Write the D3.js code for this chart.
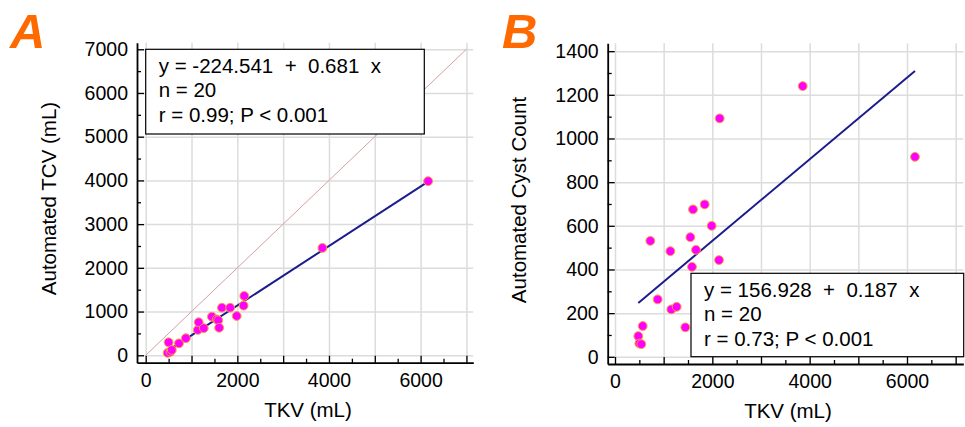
<!DOCTYPE html>
<html>
<head>
<meta charset="utf-8">
<script src="https://cdn.jsdelivr.net/npm/d3@7"></script>
<style>
  body { margin: 0; background: #fff; }
  text { font-family: "Liberation Sans", Arial, sans-serif; fill: #000; }
</style>
</head>
<body>
<svg id="chart" width="965" height="427"></svg>
<script>
// TKV (mL), shared by both panels
var tkv = [479, 500, 541, 569, 726, 877, 1137, 1157, 1267, 1445,
           1548, 1582, 1603, 1664, 1843, 1986, 2137, 2151, 3857, 6164];
// panel A: automated total cyst volume (mL)
var tcv = [55, 297, 80, 121, 272, 390, 580, 755, 620, 882,
           822, 800, 630, 1088, 1088, 898, 1135, 1357, 2455, 3982];
// panel B: automated cyst count
var cystCount = [95, 61, 58, 141, 531, 263, 484, 217, 229, 135,
                 548, 412, 675, 490, 698, 600, 443, 1092, 1240, 916];

var fitA = {a: -224.541, b: 0.681};
var fitB = {a: 156.928, b: 0.187};

var statsA = ["y = -224.541  +  0.681  x", "n = 20", "r = 0.99; P < 0.001"];
var statsB = ["y = 156.928  +  0.187  x", "n = 20", "r = 0.73; P < 0.001"];

var svg = d3.select("#chart");

// Draws one scatter panel
function makePanel(p) {
    var g = svg.append("g");
    var x = d3.scaleLinear().domain(p.xDomain).range(p.xRange);
    var y = d3.scaleLinear().domain(p.yDomain).range(p.yRange);
    var x0 = p.xRange[0], y0 = p.yRange[0];
    var w = p.xRange[1] - p.xRange[0], h = p.yRange[0] - p.yRange[1];

    // grid
    g.append("g")
        .attr("transform", "translate(0," + y0 + ")")
        .call(d3.axisBottom(x).tickValues(p.xGrid).tickSize(-h).tickFormat(""))
        .call(function(s) {
            s.select(".domain").remove();
            s.selectAll("line").attr("stroke", "#dcdcdc").attr("stroke-width", 1.5);
        });
    g.append("g")
        .attr("transform", "translate(" + x0 + ",0)")
        .call(d3.axisLeft(y).tickValues(p.yGrid).tickSize(-w).tickFormat(""))
        .call(function(s) {
            s.select(".domain").remove();
            s.selectAll("line").attr("stroke", "#dcdcdc").attr("stroke-width", 1.5);
        });

    // identity line
    if (p.identity) {
        g.append("line")
            .attr("x1", x(0)).attr("y1", y(0))
            .attr("x2", x(7000)).attr("y2", y(7000))
            .attr("stroke", "#d4a0a0").attr("stroke-width", 1);
    }

    // minor ticks (inward)
    g.append("g")
        .attr("transform", "translate(0," + y0 + ")")
        .call(d3.axisBottom(x).tickValues(p.xMinor).tickSize(-4).tickFormat(""))
        .call(function(s) { s.select(".domain").remove(); s.selectAll("line").attr("stroke-width", 1.3); });
    g.append("g")
        .attr("transform", "translate(" + x0 + ",0)")
        .call(d3.axisLeft(y).tickValues(p.yMinor).tickSize(-4).tickFormat(""))
        .call(function(s) { s.select(".domain").remove(); s.selectAll("line").attr("stroke-width", 1.3); });

    // major ticks + labels
    var fmt = d3.format("d");
    var xAxis = g.append("g")
        .attr("transform", "translate(0," + y0 + ")")
        .call(d3.axisBottom(x).tickValues(p.xMajor).tickFormat(function(d) {
            return p.xLabels.indexOf(d) < 0 ? "" : fmt(d);
        }).tickSizeInner(-7).tickSizeOuter(0).tickPadding(10));
    var yAxis = g.append("g")
        .attr("transform", "translate(" + x0 + ",0)")
        .call(d3.axisLeft(y).tickValues(p.yMajor).tickFormat(fmt)
            .tickSizeInner(-7).tickSizeOuter(0).tickPadding(9));
    [xAxis, yAxis].forEach(function(a) {
        a.selectAll("text").style("font-size", "19.5px").style("font-family", "Liberation Sans, Arial, sans-serif");
        a.selectAll("line").attr("stroke-width", 1.3);
        a.select(".domain").attr("stroke-width", 1.8);
    });

    // regression line over data range
    var ext = d3.extent(p.xs);
    g.append("line")
        .attr("x1", x(ext[0])).attr("y1", y(p.fit.a + p.fit.b * ext[0]))
        .attr("x2", x(ext[1])).attr("y2", y(p.fit.a + p.fit.b * ext[1]))
        .attr("stroke", "#1c1c8c").attr("stroke-width", 2);

    // points
    g.selectAll("circle.pt")
        .data(p.xs.map(function(d, i) { return [d, p.ys[i]]; }))
        .join("circle")
        .attr("class", "pt")
        .attr("cx", function(d) { return x(d[0]); })
        .attr("cy", function(d) { return y(d[1]); })
        .attr("r", 4.4)
        .attr("fill", "#ff00ff")
        .attr("stroke", "#ff9a3c")
        .attr("stroke-width", 1);

    // stats box
    var box = g.append("g").attr("transform", "translate(" + p.box[0] + "," + p.box[1] + ")");
    box.append("rect")
        .attr("width", p.box[2]).attr("height", p.box[3])
        .attr("fill", "#fff").attr("stroke", "#000").attr("stroke-width", 1.2);
    box.selectAll("text")
        .data(p.stats)
        .join("text")
        .attr("x", 13)
        .attr("y", function(d, i) { return 23.7 + i * 24.5; })
        .style("font-size", "20.5px")
        .style("white-space", "pre")
        .attr("xml:space", "preserve")
        .text(function(d) { return d; });

    // axis titles
    g.append("text")
        .attr("x", p.xTitlePos[0]).attr("y", p.xTitlePos[1])
        .attr("text-anchor", "middle")
        .style("font-size", "20.5px")
        .text(p.xTitle);
    g.append("text")
        .attr("transform", "translate(" + p.yTitlePos[0] + "," + p.yTitlePos[1] + ") rotate(-90)")
        .attr("text-anchor", "middle")
        .style("font-size", "20.5px")
        .text(p.yTitle);

    // panel letter
    g.append("text")
        .attr("x", p.letterPos[0]).attr("y", p.letterPos[1])
        .style("font-size", "49px")
        .style("font-weight", "bold")
        .style("font-style", "italic")
        .style("fill", "#ff6a00")
        .text(p.letter);
}

makePanel({
    letter: "A", letterPos: [10, 48],
    xs: tkv, ys: tcv, fit: fitA, stats: statsA, identity: true,
    xDomain: [-190, 7150], xRange: [137, 473.3],
    yDomain: [-170, 7150], yRange: [362.7, 42.7],
    xGrid: d3.range(0, 7001, 1000), yGrid: d3.range(0, 7001, 1000),
    xMajor: d3.range(0, 7001, 1000), xLabels: [0, 2000, 4000, 6000],
    xMinor: d3.range(500, 7001, 1000),
    yMajor: d3.range(0, 7001, 1000), yMinor: d3.range(500, 7001, 1000),
    box: [145.7, 49.3, 278.6, 84.7],
    xTitle: "TKV (mL)", xTitlePos: [308, 416.7],
    yTitle: "Automated TCV (mL)", yTitlePos: [55.5, 198.5]
});

makePanel({
    letter: "B", letterPos: [502, 48],
    xs: tkv, ys: cystCount, fit: fitB, stats: statsB, identity: false,
    xDomain: [-150, 7157], xRange: [607.7, 963.3],
    yDomain: [-33, 1436], yRange: [364, 43.3],
    xGrid: d3.range(0, 7001, 1000), yGrid: d3.range(0, 1401, 200),
    xMajor: d3.range(0, 7001, 1000), xLabels: [0, 2000, 4000, 6000],
    xMinor: d3.range(500, 7001, 1000),
    yMajor: d3.range(0, 1401, 200), yMinor: d3.range(100, 1401, 200),
    box: [691, 273.3, 272.7, 83.4],
    xTitle: "TKV (mL)", xTitlePos: [788, 418.3],
    yTitle: "Automated Cyst Count", yTitlePos: [525.5, 200]
});
</script>
</body>
</html>
